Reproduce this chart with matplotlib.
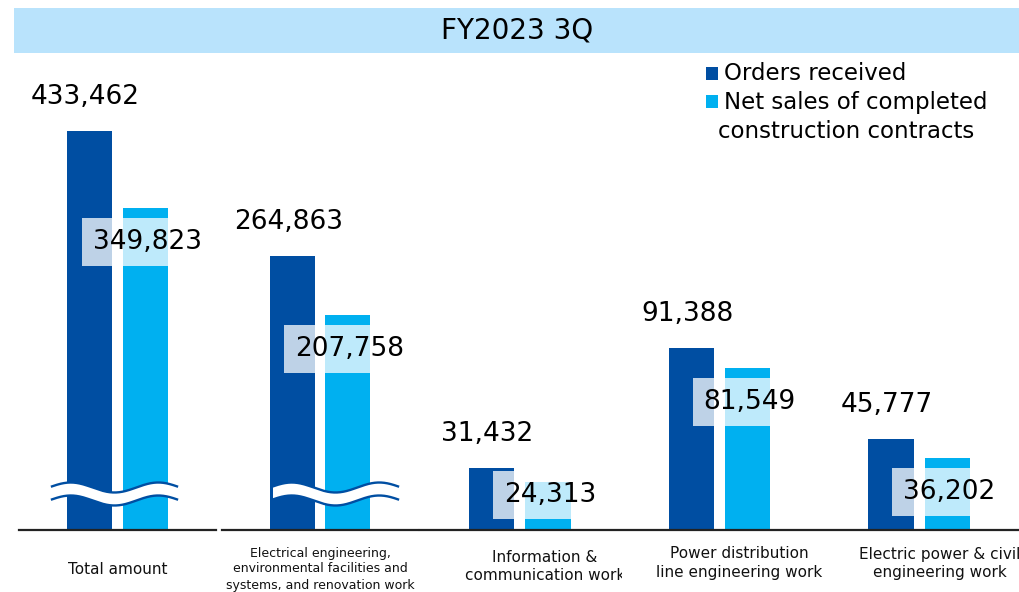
import numpy as np
import matplotlib.pyplot as plt
from matplotlib.patches import Rectangle, Polygon
from matplotlib.lines import Line2D
from matplotlib.transforms import Bbox, IdentityTransform

title = "FY2023 3Q"
categories = [
    "Total amount",
    "Electrical engineering,\nenvironmental facilities and\nsystems, and renovation work",
    "Information &\ncommunication work",
    "Power distribution\nline engineering work",
    "Electric power & civil\nengineering work",
]
orders_received = [433462, 264863, 31432, 91388, 45777]
net_sales = [349823, 207758, 24313, 81549, 36202]
series_names = ["Orders received", "Net sales of completed\nconstruction contracts"]

DARK = "#004EA2"
LIGHT = "#00B0F0"
BANNER = "#B9E3FC"

W, H = 1019, 592
TOP, BASE = 60, 530  # axes top / baseline, pixels from top
fig = plt.figure(figsize=(W / 100, H / 100), dpi=100)
ident = IdentityTransform()

# banner with title
fig.patches.append(Rectangle((14 / W, 1 - 53 / H), (W - 14) / W, 45 / H,
                             transform=fig.transFigure, facecolor=BANNER, edgecolor="none"))
fig.text(517 / W, 1 - 31 / H, title, ha="center", va="center", fontsize=20)

# first two groups sit on their own (broken) scales, the rest share one
panels = [
    dict(groups=[0], x0=19, x1=216, ymax=510400, wave=(52, 177)),
    dict(groups=[1], x0=222, x1=418, ymax=454300, wave=(273, 398)),
    dict(groups=[2, 3, 4], x0=420, x1=1019, ymax=236400, wave=None),
]
bw, off = 0.226, 0.141


def wave_line(x0, x1, yc):
    t = np.linspace(0, 1, 200)
    xs = x0 + t * (x1 - x0)
    ys = yc + 5 * np.sin(2 * np.pi * (t + 0.025) / 0.7)
    return xs, ys


for p in panels:
    g = np.array(p["groups"])
    ax = fig.add_axes([p["x0"] / W, 1 - BASE / H, (p["x1"] - p["x0"]) / W, (BASE - TOP) / H])
    ax.set_xlim(g[0] - 0.5, g[-1] + 0.5)
    ax.set_ylim(0, p["ymax"])
    ax.axis("off")
    orders = [orders_received[i] for i in g]
    sales = [net_sales[i] for i in g]
    ax.bar(g - off, orders, bw, color=DARK, zorder=2)
    ax.bar(g + off, sales, bw, color=LIGHT, zorder=2)
    ax.axhline(0, color="#222222", lw=1.6, clip_on=False, zorder=4)
    pxh = (BASE - TOP) / p["ymax"]
    for x, v in zip(g, orders):
        ax.annotate(f"{v:,}", (x - off, v), xytext=(-3, 34 * 0.72), textcoords="offset points",
                    ha="center", va="center", fontsize=19, zorder=6)
    for x, v in zip(g, sales):
        top = v * pxh
        centre = max(top - 34, 35)
        ax.annotate(f"{v:,}", (x + off, v), xytext=(1.5, (centre - top) * 0.72), textcoords="offset points",
                    ha="center", va="center", fontsize=19, zorder=6,
                    bbox=dict(boxstyle="square,pad=0.42", fc="white", ec="none", alpha=0.75))
    if p["wave"]:
        yc = H - (BASE - 36)
        xs, up = wave_line(p["wave"][0], p["wave"][1], yc + 6.5)
        _, lo = wave_line(p["wave"][0], p["wave"][1], yc - 6.5)
        fig.add_artist(Polygon(np.column_stack([np.r_[xs, xs[::-1]], np.r_[up, lo[::-1]]]),
                               closed=True, transform=ident, facecolor="white", edgecolor="none", zorder=3))
        for ys in (up, lo):
            fig.add_artist(Line2D(xs, ys, transform=ident, color=DARK, lw=1.7, zorder=4))

# category labels, clipped to their own cell
label_x = [118, 320, 545, 739, 940]
label_y = [569, 569, 566, 563, 563]
label_size = [11, 9, 11, 11, 11]
cells = [(19, 216), (222, 420), (420, 622), (620, 824), (820, 1019)]
for name, x, y, fs, (c0, c1) in zip(categories, label_x, label_y, label_size, cells):
    t = fig.text(x / W, 1 - y / H, name, ha="center", va="center", fontsize=fs,
                 linespacing=1.25 if fs > 10 else 1.3, color="#111111")
    t.set_clip_box(Bbox.from_extents(c0, 0, c1, H))
    t.set_clip_on(True)

# legend
for i, (name, col) in enumerate(zip(series_names, [DARK, LIGHT])):
    y = 73 + 29 * i
    fig.patches.append(Rectangle((706 / W, 1 - (y + 6.5) / H), 12 / W, 13 / H,
                                 transform=fig.transFigure, facecolor=col, edgecolor="none"))
    for j, line in enumerate(name.split("\n")):
        fig.text((724 if j == 0 else 718) / W, 1 - (y + 29 * j) / H, line,
                 ha="left", va="center", fontsize=16.5)

fig.savefig("out.png", dpi=100)
